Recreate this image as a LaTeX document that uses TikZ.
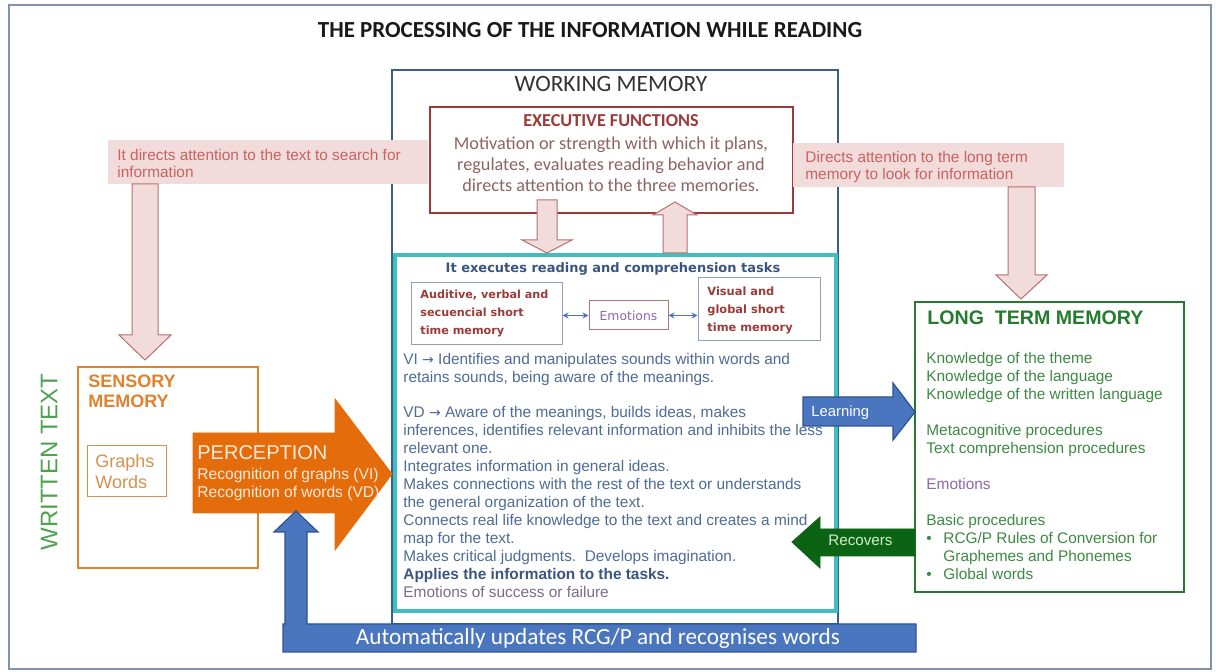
\documentclass[tikz,border=0pt]{standalone}
\usepackage{fontspec}
\setmainfont{Liberation Sans}
\newfontfamily\calfont{Carlito}
\newfontfamily\verfont{DejaVu Sans}
\usetikzlibrary{positioning,fit,arrows.meta}

\definecolor{framegray}{HTML}{7F93AB}
\definecolor{wmblue}{HTML}{3B5E8C}
\definecolor{tealline}{HTML}{3FBFC2}
\definecolor{execred}{HTML}{9A3B39}
\definecolor{execbody}{HTML}{8E6363}
\definecolor{pinkfill}{HTML}{F2DCDB}
\definecolor{pinkline}{HTML}{B8706E}
\definecolor{pinktext}{HTML}{C8625F}
\definecolor{bodyblue}{HTML}{4D6C97}
\definecolor{darkbody}{HTML}{3A5580}
\definecolor{mutedpurple}{HTML}{7C6B86}
\definecolor{emopurple}{HTML}{8A68AE}
\definecolor{smallline}{HTML}{8FA2BD}
\definecolor{emoline}{HTML}{B07575}
\definecolor{ltmgreen}{HTML}{257A2E}
\definecolor{ltmtext}{HTML}{3C8A42}
\definecolor{arrowblue}{HTML}{4A76BF}
\definecolor{arrowblueline}{HTML}{2F528F}
\definecolor{recgreen}{HTML}{0B6414}
\definecolor{rectext}{HTML}{D4EBCC}
\definecolor{senseorange}{HTML}{E0812E}
\definecolor{graphorange}{HTML}{D9904F}
\definecolor{percorange}{HTML}{E46C0A}
\definecolor{perctext}{HTML}{FDEBDD}
\definecolor{writgreen}{HTML}{4EA24E}

\begin{document}
\begin{tikzpicture}[x=0.5pt, y=-0.5pt, inner sep=0pt,
    outerframe/.style={draw=framegray, line width=0.6pt},
    wmbox/.style={draw=wmblue, line width=0.8pt},
    tealbox/.style={draw=tealline, line width=2pt},
    execbox/.style={draw=execred, line width=1pt},
    smallbox/.style={draw=smallline, line width=0.5pt},
    pinkbox/.style={fill=pinkfill},
    pinkarrow/.style={fill=pinkfill, draw=pinkline, line width=0.5pt},
    bluearrow/.style={fill=arrowblue, draw=arrowblueline, line width=0.6pt},
    bodytext/.style={anchor=north west, align=left, font=\fontsize{7.7}{9}\selectfont, text=bodyblue}]

    \useasboundingbox (0,0) rectangle (1216,672);
    \fill[white] (0,0) rectangle (1216,672);

    \node[outerframe, fit={(9,5) (1211,669)}] (page) {};
    \node[font=\calfont\bfseries\fontsize{11.5}{13}\selectfont, text=black!90] (title) at (590,30) {THE PROCESSING OF THE INFORMATION WHILE READING};

    % working memory
    \node[wmbox, fit={(392,70) (838,624)}] (wm) {};
    \node[font=\calfont\fontsize{11.7}{13}\selectfont, text=black!80] (wmtitle) at (611,84) {WORKING MEMORY};
    \node[tealbox, fit={(395,255) (836,611)}] (tasks) {};

    \node[execbox, fill=white, fit={(430,107) (793,213)}] (exec) {};
    \node[font=\calfont\bfseries\fontsize{9.1}{10}\selectfont, text=execred] (exectitle) at (611,121) {EXECUTIVE FUNCTIONS};
    \node[font=\calfont\fontsize{9.1}{10.5}\selectfont, text=execbody, align=center] (execbody) at (611,164) {Motivation or strength with which it plans,\\regulates, evaluates reading behavior and\\directs attention to the three memories.};

    \draw[pinkarrow] (537,200) -- (557,200) -- (557,240) -- (572,240) -- (547,253) -- (522,240) -- (537,240) -- cycle;
    \draw[pinkarrow] (663,253) -- (663,215) -- (653,215) -- (675,202) -- (697,215) -- (687,215) -- (687,253) -- cycle;

    \node[font=\verfont\bfseries\fontsize{6.5}{8}\selectfont, text=darkbody] (exectasks) at (613,269) {It executes reading and comprehension tasks};

    \node[smallbox, fit={(411,283) (562,345)}] (audit) {};
    \node[anchor=west, align=left, font=\verfont\bfseries\fontsize{5.6}{9}\selectfont, text=execred] (audittext) at (420,313) {Auditive, verbal and\\secuencial short\\time memory};
    \node[draw=emoline, line width=0.5pt, fit={(589,301) (668,330)}] (emo) {};
    \node[font=\verfont\fontsize{6.2}{8}\selectfont, text=emopurple] (emotext) at (emo.center) {Emotions};
    \node[smallbox, fit={(698,278) (820,341)}] (visual) {};
    \node[anchor=west, align=left, font=\verfont\bfseries\fontsize{5.7}{9}\selectfont, text=execred] (visualtext) at (707,310) {Visual and\\global short\\time memory};
    \draw[{Stealth[length=3pt,width=3pt]}-{Stealth[length=3pt,width=3pt]}, arrowblue, line width=0.5pt] (audit.east |- emo.west) -- (emo.west);
    \draw[{Stealth[length=3pt,width=3pt]}-{Stealth[length=3pt,width=3pt]}, arrowblue, line width=0.5pt] (emo.east) -- (emo.east -| visual.west);

    \node[bodytext] (tasklist) at (403,353) {VI {\verfont\fontsize{7}{9}\selectfont →} Identifies and manipulates sounds within words and\\
        retains sounds, being aware of the meanings.\\[8.5pt]
        VD {\verfont\fontsize{7}{9}\selectfont →} Aware of the meanings, builds ideas, makes\\
        inferences, identifies relevant information and inhibits the less\\
        relevant one.\\
        Integrates information in general ideas.\\
        Makes connections with the rest of the text or understands\\
        the general organization of the text.\\
        Connects real life knowledge to the text and creates a mind\\
        map for the text.\\
        Makes critical judgments.\ \ Develops imagination.\\
        {\bfseries\color{darkbody}Applies the information to the tasks.}\\
        {\color{mutedpurple}Emotions of success or failure}};

    % attention boxes
    \node[pinkbox, fit={(108,140) (428,184)}] (searchtext) {};
    \node[anchor=north west, align=left, font=\fontsize{7.7}{8.5}\selectfont, text=pinktext] (searchlabel) at (117,149) {It directs attention to the text to search for\\information};
    \draw[pinkarrow] (132,184) -- (158,184) -- (158,335) -- (171,335) -- (145,360) -- (119,335) -- (132,335) -- cycle;

    \node[pinkbox, fit={(793,143) (1064,187)}] (looktext) {};
    \node[anchor=north west, align=left, font=\fontsize{7.7}{8.5}\selectfont, text=pinktext] (looklabel) at (805,151) {Directs attention to the long term\\memory to look for information};
    \draw[pinkarrow] (1008,187) -- (1035,187) -- (1035,275) -- (1047,275) -- (1021,299) -- (996,275) -- (1008,275) -- cycle;

    % long term memory
    \node[draw=ltmgreen, line width=1pt, fit={(915,302) (1184,592)}] (ltm) {};
    \node[anchor=base west, font=\bfseries\fontsize{9.8}{11}\selectfont, text=ltmgreen] (ltmtitle) at (927,325) {LONG\ \ TERM MEMORY};
    \node[bodytext, text=ltmtext] (ltmlist) at (926,352) {Knowledge of the theme\\
        Knowledge of the language\\
        Knowledge of the written language\\[9pt]
        Metacognitive procedures\\
        Text comprehension procedures\\[9pt]
        {\color{emopurple}Emotions}\\[9pt]
        Basic procedures\\
        \makebox[8.5pt][l]{\textbullet}RCG/P Rules of Conversion for\\
        \hspace*{8.5pt}Graphemes and Phonemes\\
        \makebox[8.5pt][l]{\textbullet}Global words};

    \draw[bluearrow] (803,397) -- (893,397) -- (893,383) -- (915,412) -- (893,440) -- (893,426) -- (803,426) -- cycle;
    \node[anchor=base west, font=\fontsize{7.4}{8}\selectfont, text=white] (learning) at (811,417) {Learning};
    \draw[fill=recgreen, draw=recgreen] (915,529) -- (820,529) -- (820,517) -- (792,542) -- (820,568) -- (820,556) -- (915,556) -- cycle;
    \node[anchor=base west, font=\fontsize{7.6}{8}\selectfont, text=rectext] (recovers) at (828,546) {Recovers};

    % sensory memory
    \node[rotate=90, font=\fontsize{12}{14}\selectfont, text=writgreen] (written) at (49,462) {WRITTEN TEXT};
    \node[draw=senseorange, line width=1pt, fit={(78,367) (258,568)}] (sense) {};
    \node[anchor=north west, align=left, font=\bfseries\fontsize{9}{10}\selectfont, text=senseorange] (sensetitle) at (88,375) {SENSORY\\MEMORY};
    \node[draw=graphorange, line width=0.5pt, fit={(87,446) (166,497)}] (graphs) {};
    \node[anchor=west, align=left, font=\fontsize{9}{10.5}\selectfont, text=graphorange] (graphstext) at (95,472) {Graphs\\Words};

    \draw[fill=percorange, draw=percorange] (193,433) -- (335,433) -- (335,399) -- (392,474) -- (335,550) -- (335,513) -- (193,513) -- cycle;
    \node[anchor=base west, font=\fontsize{10}{11}\selectfont, text=perctext] (perception) at (197,460) {PERCEPTION};
    \node[anchor=north west, align=left, font=\fontsize{7.8}{9}\selectfont, text=perctext] (perclines) at (197,468) {Recognition of graphs (VI)\\Recognition of words (VD)};

    % automatic update
    \draw[bluearrow] (283,652) -- (916,652) -- (916,624) -- (307,624) -- (307,532) -- (318,532) -- (296,511) -- (274,532) -- (285,532) -- (285,624) -- (283,624) -- cycle;
    \node[font=\calfont\fontsize{11.6}{12}\selectfont, text=white] (updates) at (598,638) {Automatically updates RCG/P and recognises words};
\end{tikzpicture}
\end{document}
